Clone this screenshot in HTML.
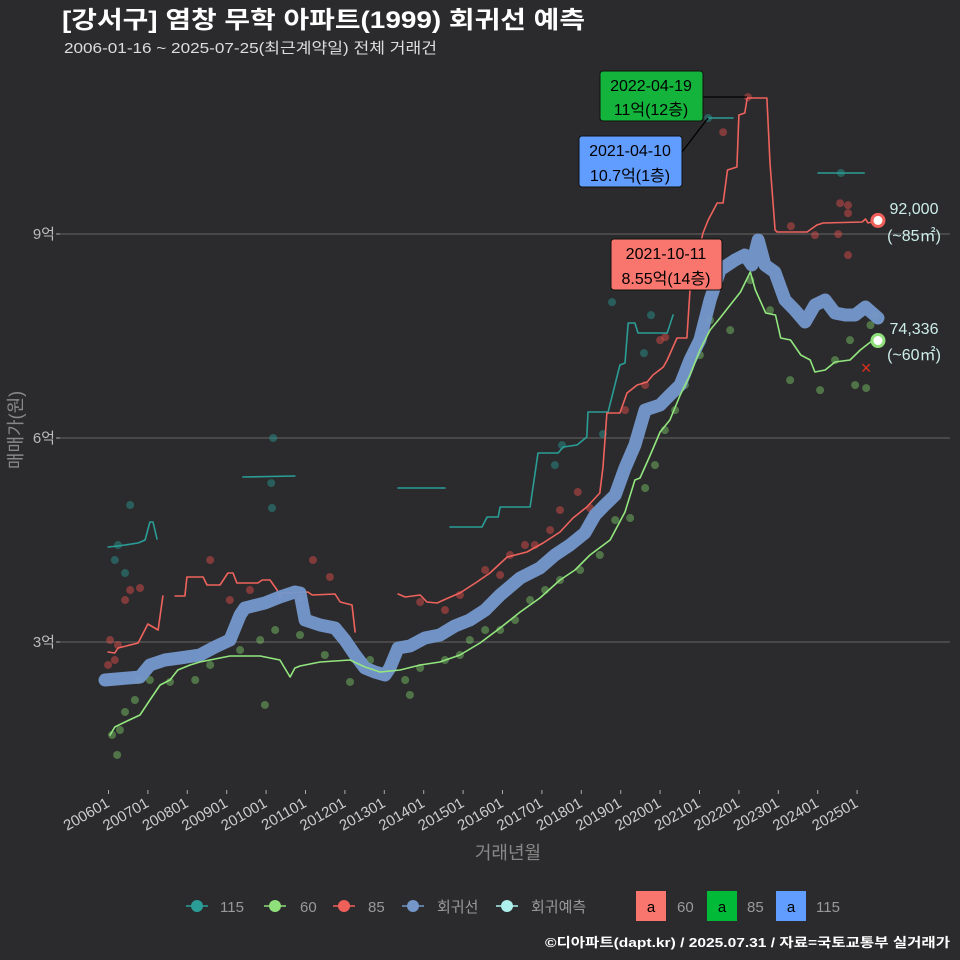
<!DOCTYPE html>
<html><head><meta charset="utf-8">
<style>
html,body{margin:0;padding:0;background:#2b2b2d;}
svg{display:block;font-family:"Liberation Sans","Noto Sans CJK KR",sans-serif;}
</style></head>
<body>
<svg id="chart" width="960" height="960" viewBox="0 0 960 960">
<rect x="0" y="0" width="960" height="960" fill="#2b2b2d"/>
<text x="62" y="28" fill="#ffffff" font-size="24" font-weight="bold" textLength="523" lengthAdjust="spacingAndGlyphs">[강서구] 염창 무학 아파트(1999) 회귀선 예측</text>
<text x="64" y="53" fill="#dddddd" font-size="15" textLength="373" lengthAdjust="spacingAndGlyphs">2006-01-16 ~ 2025-07-25(최근계약일) 전체 거래건</text>
<g id="grid"></g>
<g id="yaxis"></g>
<g id="xaxis"></g>
<text transform="translate(22,430) rotate(-90)" text-anchor="middle" fill="#888888" font-size="18">매매가(원)</text>
<text x="508" y="859" text-anchor="middle" fill="#888888" font-size="18">거래년월</text>
<g id="dots"></g>
<g id="lines"></g>
<g id="annot">
  <line x1="703" y1="97" x2="747" y2="97" stroke="#000" stroke-width="1.3"/>
  <line x1="682" y1="152" x2="708" y2="118" stroke="#000" stroke-width="1.3"/>
  <g>
    <rect x="600" y="71" width="103" height="50" rx="3" fill="#14b43c" stroke="#111" stroke-width="1"/>
    <text x="651" y="91" text-anchor="middle" font-size="16" fill="#000">2022-04-19</text>
    <text x="651" y="115" text-anchor="middle" font-size="16" fill="#000">11억(12층)</text>
  </g>
  <g>
    <rect x="579" y="136" width="103" height="51" rx="3" fill="#619cff" stroke="#111" stroke-width="1"/>
    <text x="630" y="156" text-anchor="middle" font-size="16" fill="#000">2021-04-10</text>
    <text x="630" y="181" text-anchor="middle" font-size="16" fill="#000">10.7억(1층)</text>
  </g>
  <g>
    <rect x="611" y="239" width="111" height="51" rx="3" fill="#f8766d" stroke="#111" stroke-width="1"/>
    <text x="666" y="259" text-anchor="middle" font-size="16" fill="#000">2021-10-11</text>
    <text x="666" y="284" text-anchor="middle" font-size="16" fill="#000">8.55억(14층)</text>
  </g>
</g>
<g>
  <text x="914" y="214" text-anchor="middle" fill="#cdeee8" font-size="16">92,000</text>
  <text x="914" y="241" text-anchor="middle" fill="#cdeee8" font-size="16">(~85㎡)</text>
  <text x="914" y="334" text-anchor="middle" fill="#cdeee8" font-size="16">74,336</text>
  <text x="914" y="360" text-anchor="middle" fill="#cdeee8" font-size="16">(~60㎡)</text>
</g>
<g id="legend">
  <g>
    <line x1="186" y1="906" x2="208" y2="906" stroke="#2a9d96" stroke-width="1.5"/><circle cx="197" cy="906" r="6" fill="#2a9d96"/>
    <text x="220" y="912" fill="#999" font-size="15">115</text></g>
  <g>
    <line x1="264" y1="906" x2="286" y2="906" stroke="#8fe07a" stroke-width="1.5"/><circle cx="275" cy="906" r="6" fill="#8fe07a"/>
    <text x="300" y="912" fill="#999" font-size="15">60</text></g>
  <g>
    <line x1="333" y1="906" x2="355" y2="906" stroke="#f0605a" stroke-width="1.5"/><circle cx="344" cy="906" r="6" fill="#f0605a"/>
    <text x="368" y="912" fill="#999" font-size="15">85</text></g>
  <g>
    <line x1="402" y1="906" x2="424" y2="906" stroke="#7496c8" stroke-width="1.5"/><circle cx="413" cy="906" r="6" fill="#7496c8"/>
    <text x="437" y="912" fill="#999" font-size="15">회귀선</text></g>
  <g>
    <line x1="496" y1="906" x2="518" y2="906" stroke="#aef0ee" stroke-width="1.5"/><circle cx="507" cy="906" r="6" fill="#aef0ee"/>
    <text x="531" y="912" fill="#999" font-size="15">회귀예측</text></g>
  <g>
    <rect x="636" y="891" width="30" height="30" fill="#f8766d"/><text x="651" y="912" text-anchor="middle" font-size="15" fill="#000">a</text>
    <text x="677" y="912" fill="#999" font-size="15">60</text></g>
  <g>
    <rect x="707" y="891" width="30" height="30" fill="#00ba38"/><text x="722" y="912" text-anchor="middle" font-size="15" fill="#000">a</text>
    <text x="747" y="912" fill="#999" font-size="15">85</text></g>
  <g>
    <rect x="776" y="891" width="30" height="30" fill="#619cff"/><text x="791" y="912" text-anchor="middle" font-size="15" fill="#000">a</text>
    <text x="816" y="912" fill="#999" font-size="15">115</text></g>
</g>
<text x="950" y="947" text-anchor="end" fill="#ffffff" font-size="13" font-weight="bold" textLength="405" lengthAdjust="spacingAndGlyphs">©디아파트(dapt.kr) / 2025.07.31 / 자료=국토교통부 실거래가</text>
</svg>
<script>
const yTicks=[30000,60000,90000];
const yTickLabels=["3억","6억","9억"];
const xTickYears=[2006,2007,2008,2009,2010,2011,2012,2013,2014,2015,2016,2017,2018,2019,2020,2021,2022,2023,2024,2025];
const xTickLabels=["200601","200701","200801","200901","201001","201101","201201","201301","201401","201501","201601","201701","201801","201901","202001","202101","202201","202301","202401","202501"];

const regT=[2005.91,2006.80,2007.05,2007.43,2007.81,2008.32,2008.70,2009.08,2009.34,2009.46,2009.97,2010.35,2010.73,2010.86,2010.99,2011.37,2011.75,2012.00,2012.26,2012.51,2012.76,2013.02,2013.14,2013.35,2013.65,2014.03,2014.41,2014.79,2015.17,2015.56,2015.94,2016.45,2016.95,2017.33,2017.71,2018.09,2018.35,2018.60,2018.86,2019.11,2019.36,2019.62,2020.00,2020.25,2020.51,2020.76,2021.01,2021.27,2021.52,2021.90,2022.15,2022.33,2022.49,2022.66,2022.91,2023.17,2023.42,2023.68,2023.93,2024.19,2024.44,2024.70,2024.95,2025.21,2025.53];
const regV=[24410,24850,26620,27350,27650,28090,29260,30290,33970,35000,35740,36620,37350,37200,33240,32500,32060,30290,28090,26180,25590,25150,26180,29120,29410,30590,31030,32350,33240,34710,36910,39410,40880,42790,44260,46030,48680,50150,51620,55590,58970,64120,64850,66320,67790,71470,74410,80290,84710,86180,86910,85440,89120,85440,84410,80290,78820,77060,79560,80290,78380,78090,78090,79260,77640];

const s60T=[2006.04,2006.16,2006.42,2006.80,2007.05,2007.31,2007.56,2007.76,2008.07,2008.32,2009.08,2009.85,2010.35,2010.61,2010.73,2010.86,2011.37,2012.13,2012.51,2012.89,2013.40,2013.91,2014.41,2014.92,2015.43,2015.94,2016.45,2016.95,2017.46,2017.84,2018.22,2018.73,2019.11,2019.36,2019.49,2019.75,2020.00,2020.25,2020.51,2020.76,2021.01,2021.27,2021.52,2021.78,2022.04,2022.29,2022.42,2022.68,2022.93,2023.06,2023.31,2023.57,2023.81,2023.93,2024.19,2024.44,2024.82,2025.08,2025.34,2025.53];
const s60V=[16320,17500,18240,19260,21470,23680,24410,25880,26620,27060,27940,27940,27350,24850,26180,26470,27060,27350,26320,25590,25880,26620,27060,28090,29850,32060,34410,36470,39120,40590,42790,45000,49120,53820,54120,57500,60880,62650,66320,69260,72940,75880,77650,79560,81470,84410,81760,78380,78090,74710,74410,72210,71470,69710,70000,71180,71470,72940,74120,74336];

const s85T=[2005.99,2006.16,2006.24,2006.75,2007.00,2007.26,2007.38,null,2007.69,2007.94,2007.99,2008.40,2008.50,2008.83,2009.03,2009.16,2009.26,2009.79,2009.90,2010.10,2010.28,2010.35,2010.40,2011.06,2011.17,2011.75,2011.88,2012.18,2012.26,null,2013.35,2013.53,2013.91,2014.08,2014.34,2014.62,2014.92,2015.35,2015.68,2016.12,2016.62,2017.03,2017.46,2017.79,2018.14,2018.47,2018.55,2018.65,2018.98,2019.16,2019.42,2019.67,2019.82,2020.08,2020.18,2020.43,2020.68,2020.76,2021.09,2021.22,2021.45,2021.60,2021.71,2021.95,2022.00,2022.15,2022.21,2022.71,2022.79,2022.92,2022.97,2023.73,2023.98,2024.14,2025.13,2025.21,2025.28,2025.53];
const s85V=[28530,28380,29120,29850,32650,31760,36760,null,36760,36760,39560,39560,38380,38380,40150,40150,38680,38680,39120,39120,37650,36470,37210,37350,36910,37060,35880,35440,31470,null,37060,36620,36910,35880,35740,36470,37210,38820,40150,42500,43240,44560,46180,48240,49850,51910,55740,63680,63680,66620,67790,68240,69260,70440,71470,74710,74710,81770,90150,92060,94560,94560,99410,99850,107500,107790,110000,110000,100440,90590,90290,90290,91320,91620,91760,92210,91620,92000];

const s115T=[2005.99,2006.24,2006.75,2006.93,2007.05,2007.13,2007.23,null,2009.41,2010.73,null,2013.35,2014.54,null,2014.67,2015.48,2015.61,2015.89,2015.94,2016.70,2016.90,2017.41,2017.54,2017.89,2018.14,2018.17,2018.68,2018.98,2019.11,2019.19,2019.36,2019.44,2020.18,2020.33,null,2021.22,2021.85,null,2024.01,2025.18];
const s115V=[43970,44120,44560,45000,47650,47650,45150,null,54260,54410,null,52650,52650,null,46910,46910,48380,48380,49850,49850,57790,57790,58680,58970,60150,63820,63820,70740,71030,76910,76910,75440,75440,78090,null,107060,107060,null,98970,98970];

const d60T=[2006.09,2006.22,2006.29,2006.42,2006.67,2006.75,2007.05,2007.56,2008.20,2008.58,2009.34,2009.85,2009.97,2010.23,2010.86,2011.49,2012.13,2012.64,2013.53,2013.65,2013.91,2014.54,2014.92,2015.17,2015.56,2015.94,2016.32,2016.70,2017.08,2017.46,2017.97,2018.47,2018.86,2019.24,2019.62,2019.87,2020.12,2020.38,2020.63,2021.01,2021.27,2021.78,2022.29,2022.79,2023.30,2024.06,2024.44,2024.82,2024.95,2025.23,2025.34,2025.46];
const d60V=[16330,13390,17060,19710,21470,24410,24410,24120,24410,26620,28820,30290,20740,31760,31030,28090,24120,27350,24410,22210,26180,27350,28090,30290,31760,31760,33230,36170,37640,39110,40580,42790,47930,48230,52640,56020,61160,64100,67780,72190,77330,75860,83210,78800,68510,67040,71450,74390,67780,67340,76600,78070];

const d85T=[2005.99,2006.04,2006.16,2006.24,2006.42,2006.55,2006.80,2008.58,2009.08,2009.59,2011.19,2011.62,2010.86,2013.91,2014.54,2014.92,2015.56,2015.94,2016.19,2016.57,2016.82,2017.21,2017.46,2017.91,2018.22,2019.11,2019.62,2020.00,2020.13,2020.76,2021.60,2022.23,2023.32,2023.93,2024.57,2024.77,2024.77,2024.52,2024.77];
const d85V=[26620,30290,27350,29560,36170,37640,37940,42050,36170,37640,42050,39560,36470,35880,34700,36910,40580,39850,42790,44260,44260,46460,49400,52050,49700,64100,67780,74390,74830,72190,104970,110120,91150,89830,94530,94240,93060,89980,86890];

const d115T=[2006.55,2006.24,2006.16,2006.42,2010.15,2010.13,2010.18,2017.33,2017.51,2018.55,2018.78,2019.77,2019.59,2021.22,2024.59];
const d115V=[50140,44260,42050,40140,49700,53370,60000,56020,58960,60580,79980,78070,72480,107060,98970];

const outlierT=[2025.23];
const outlierV=[70280];

const NS="http://www.w3.org/2000/svg";
function X(t){return 108.5+(t-2006)*39.4;}
function Y(v){return 642-(v-30000)*204/30000;}
function mk(tag,attrs,parent){const e=document.createElementNS(NS,tag);for(const k in attrs)e.setAttribute(k,attrs[k]);parent.appendChild(e);return e;}

const grid=document.getElementById('grid'),yax=document.getElementById('yaxis'),xax=document.getElementById('xaxis');
yTicks.forEach((v,i)=>{
  const g=mk('line',{x1:60,x2:950,y1:Y(v),y2:Y(v),stroke:'#5a5a5a','stroke-width':1.2},grid);
  
  
  mk('line',{x1:56,x2:60,y1:Y(v),y2:Y(v),stroke:'#aaa'},yax);
  const t=mk('text',{x:55,y:Y(v)+5,'text-anchor':'end',fill:'#bbbbbb','font-size':15},yax);
  t.textContent=yTickLabels[i];
  
  
});
xTickYears.forEach((yr,i)=>{
  const x=X(yr);
  mk('line',{x1:x,x2:x,y1:790,y2:794,stroke:'#aaa'},xax);
  const t=mk('text',{transform:'translate('+(x+2)+',806) rotate(-30)','text-anchor':'end',fill:'#cccccc','font-size':15},xax);
  t.textContent=xTickLabels[i];
  
  
});

const dots=document.getElementById('dots');
function drawDots(T,V,color,name){
  T.forEach((t,i)=>{
    const c=mk('circle',{cx:X(t),cy:Y(V[i]),r:4,fill:color,'fill-opacity':0.45},dots);
    
    
  });
}
drawDots(d115T,d115V,'#2a9d96','dot-115');
drawDots(d85T,d85V,'#e8504c','dot-85');
drawDots(d60T,d60V,'#7fcf6a','dot-60');

const lines=document.getElementById('lines');
function pathOf(T,V){let d='',pen=false;T.forEach((t,i)=>{if(t===null){pen=false;return;}d+=(pen?'L':'M')+X(t).toFixed(1)+','+Y(V[i]).toFixed(1);pen=true;});return d;}
function drawLine(T,V,color,w,name,op){
  const p=mk('path',{d:pathOf(T,V),fill:'none',stroke:color,'stroke-width':w,'stroke-linejoin':'round','stroke-linecap':'round','stroke-opacity':op||1},lines);
  
  
}
drawLine(s115T,s115V,'#2a9d96',1.6,'line-115');
drawLine(s85T,s85V,'#ee635d',1.6,'line-85');
drawLine(regT,regV,'#7598cc',13,'regression-line',0.95);
drawLine(s60T,s60V,'#93e67e',1.6,'line-60');

outlierT.forEach((t,i)=>{
  const o=mk('text',{x:X(t),y:Y(outlierV[i])+6,'text-anchor':'middle',fill:'#e03020','font-size':18},lines);
  o.textContent='×';
  
  
});
const e85=mk('circle',{cx:X(s85T[s85T.length-1]),cy:Y(s85V[s85V.length-1]),r:6,fill:'#ffffff',stroke:'#f0605a','stroke-width':3},lines);


const e60=mk('circle',{cx:X(s60T[s60T.length-1]),cy:Y(s60V[s60V.length-1]),r:6,fill:'#ffffff',stroke:'#8fe07a','stroke-width':3},lines);


</script>
</body></html>
